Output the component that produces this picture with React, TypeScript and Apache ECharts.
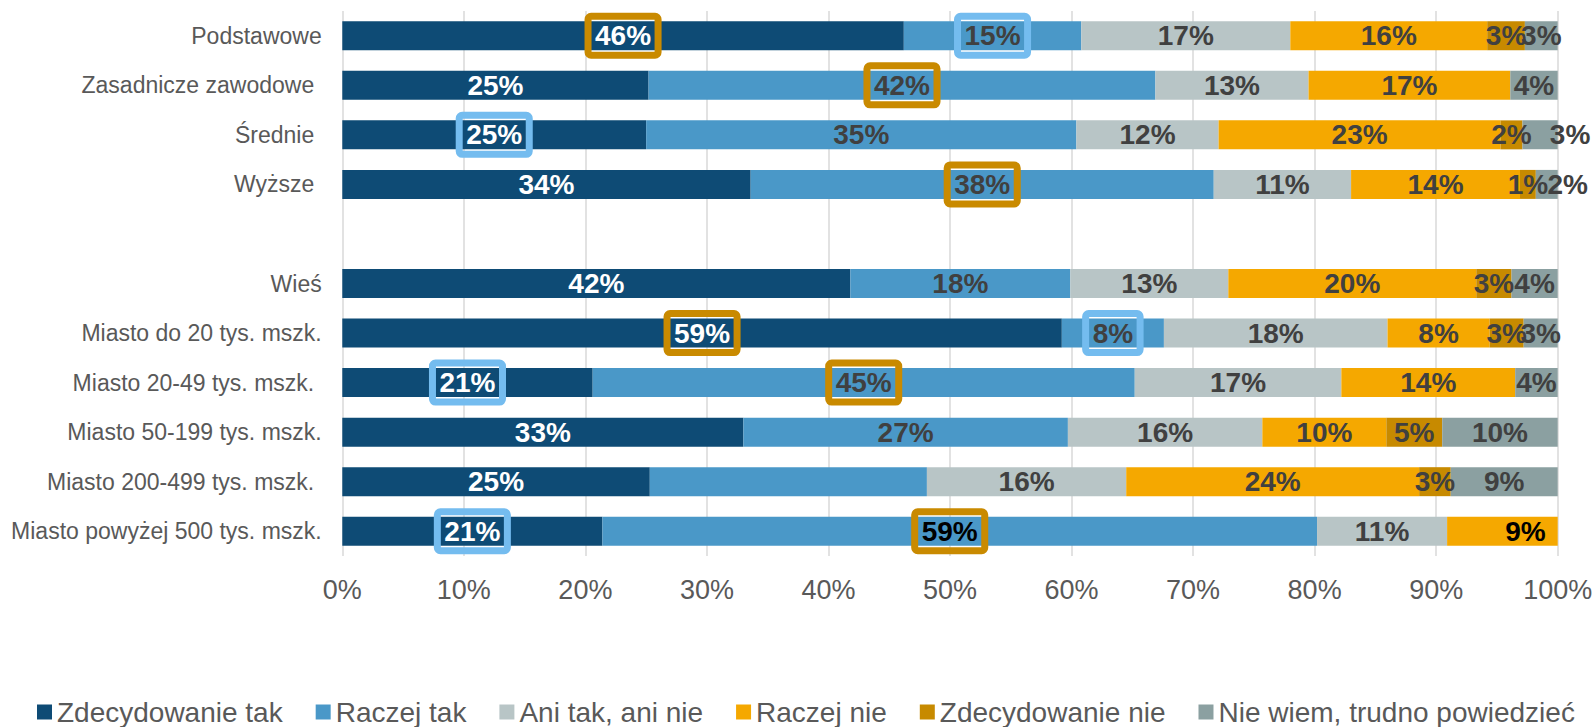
import React, { useEffect, useRef } from "react";
import * as echarts from "echarts";

const categories = [
  "Podstawowe",
  "Zasadnicze zawodowe",
  "Średnie",
  "Wyższe",
  "",
  "Wieś",
  "Miasto do 20 tys. mszk.",
  "Miasto 20-49 tys. mszk.",
  "Miasto 50-199 tys. mszk.",
  "Miasto 200-499 tys. mszk.",
  "Miasto powyżej 500 tys. mszk.",
];
// rows whose label has a trailing space in the original
const trailingSpaceRows = [1, 2, 3, 7, 9];

const seriesNames = [
  "Zdecydowanie tak",
  "Raczej tak",
  "Ani tak, ani nie",
  "Raczej nie",
  "Zdecydowanie nie",
  "Nie wiem, trudno powiedzieć",
];

const zdecydowanieTak = [46.2, 25.2, 25.0, 33.6, null, 41.8, 59.2, 20.6, 33.0, 25.3, 21.4];
const raczejTak = [14.6, 41.7, 35.4, 38.1, null, 18.1, 8.4, 44.6, 26.7, 22.8, 58.8];
const aniTakAniNie = [17.2, 12.6, 11.7, 11.3, null, 13.0, 18.4, 17.0, 16.0, 16.4, 10.7];
const raczejNie = [16.2, 16.6, 23.2, 13.9, null, 20.4, 8.4, 14.3, 10.2, 24.1, 9.1];
const zdecydowanieNie = [3.1, 0, 1.8, 1.3, null, 2.9, 2.8, 0, 4.6, 2.6, 0];
const nieWiem = [2.7, 3.9, 2.9, 1.8, null, 3.8, 2.8, 3.5, 9.5, 8.8, 0];

const xTicks = [0, 10, 20, 30, 40, 50, 60, 70, 80, 90, 100];

// annotations: [seriesIndex, rowIndex]
const goldBoxes = [[0, 0], [1, 1], [1, 3], [0, 6], [1, 7], [1, 10]];
const blueBoxes = [[1, 0], [0, 2], [1, 6], [0, 7], [0, 10]];
const blackLabels = [[1, 10], [3, 10]];
const hiddenLabels = [[1, 9]];
const labelShifts = [[5, 2, 30], [5, 3, 21], [3, 10, 23], [1, 10, -10]];

const COLORS = ["#0E4B75", "#4A98C8", "#B8C5C6", "#F5A800", "#C78A00", "#8BA0A1"];
const GOLD_BOX = "#C98A00";
const BLUE_BOX = "#74BCEF";
const FONT = '"Liberation Sans", Arial, Helvetica, sans-serif';

const has = (list: number[][], s: number, r: number) =>
  list.some((e) => e[0] === s && e[1] === r);

export default function App() {
  const ref = useRef<HTMLDivElement>(null);

  useEffect(() => {
    if (!ref.current) return;
    const chart = echarts.init(ref.current, undefined, { renderer: "svg" });
    const allSeries = [zdecydowanieTak, raczejTak, aniTakAniNie, raczejNie, zdecydowanieNie, nieWiem];

    const series = allSeries.map((values, s) => ({
      name: seriesNames[s],
      type: "bar",
      stack: "total",
      barCategoryGap: "41.5%",
      itemStyle: { color: COLORS[s] },
      label: {
        show: true,
        position: "inside",
        fontFamily: FONT,
        fontSize: 28,
        fontWeight: "bold",
        color: s === 0 ? "#FFFFFF" : "#404040",
        formatter: (p: any) => (p.value ? Math.round(p.value) + "%" : ""),
      },
      data: values.map((v, r) => {
        if (v === null) return null;
        const label: any = {};
        if (has(goldBoxes, s, r) || has(blueBoxes, s, r)) {
          label.borderColor = has(goldBoxes, s, r) ? GOLD_BOX : BLUE_BOX;
          label.borderWidth = 7;
          label.borderRadius = 3;
          label.padding = [4, 7];
          label.lineHeight = 31;
        }
        if (has(blackLabels, s, r)) label.color = "#000000";
        if (has(hiddenLabels, s, r)) label.show = false;
        const sh = labelShifts.find((e) => e[0] === s && e[1] === r);
        if (sh) label.offset = [sh[2], 0];
        return Object.keys(label).length ? { value: v, label } : v;
      }),
    }));

    chart.setOption({
      animation: false,
      textStyle: { fontFamily: FONT },
      grid: { left: 342.3, right: 38.3, top: 11, bottom: 171, containLabel: false },
      legend: {
        data: seriesNames,
        left: 37,
        top: 698,
        padding: 0,
        itemWidth: 15,
        itemHeight: 15,
        itemGap: 33,
        icon: "rect",
        textStyle: { fontFamily: FONT, fontSize: 28, color: "#595959" },
      },
      xAxis: {
        type: "value",
        min: xTicks[0],
        max: xTicks[xTicks.length - 1],
        interval: xTicks[1] - xTicks[0],
        axisLine: { show: false },
        axisTick: { show: false },
        axisLabel: {
          formatter: "{value}%",
          fontFamily: FONT,
          fontSize: 27,
          color: "#595959",
          margin: 20,
        },
        splitLine: { show: true, lineStyle: { color: "#D9D9D9", width: 1.5 } },
      },
      yAxis: {
        type: "category",
        inverse: true,
        data: categories.map((c, i) =>
          trailingSpaceRows.includes(i) ? { value: c, textStyle: { padding: [0, 7.5, 0, 0] } } : c
        ),
        axisLine: { show: false },
        axisTick: { show: false },
        axisLabel: { fontFamily: FONT, fontSize: 23, color: "#595959", margin: 20.6 },
      },
      series,
    });
    return () => chart.dispose();
  }, []);

  return (
    <div
      ref={ref}
      style={{ position: "fixed", left: 0, top: 0, width: 1596, height: 727, background: "#FFFFFF" }}
    />
  );
}
